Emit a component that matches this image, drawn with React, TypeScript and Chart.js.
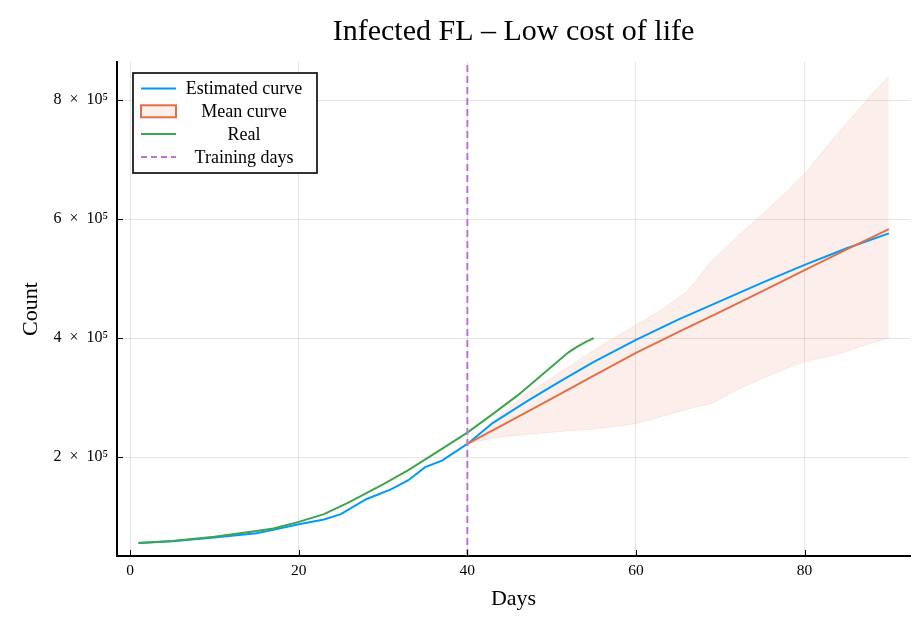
import React, { useEffect, useRef } from 'react';
import { Chart, registerables } from 'chart.js';

Chart.register(...registerables);

// values
const estDays = [1, 5, 10, 15, 17, 20, 23, 25, 28, 31, 33, 35, 37, 40, 43, 47, 51, 55, 60, 65, 70, 75, 80, 85, 90];
const estimated = [55500, 58500, 64500, 72000, 77500, 87000, 95000, 104000, 129000, 146000, 161000, 183000, 194000, 222000, 257000, 293000, 327000, 360000, 397000, 431000, 462000, 493000, 523000, 551000, 576000];

const realDays = [1, 5, 10, 15, 17, 20, 23, 26, 30, 33, 36, 40, 43, 46, 49, 52, 53, 54, 55];
const real = [55500, 58800, 66000, 75500, 80000, 91000, 104000, 124000, 154000, 178000, 205000, 241000, 272000, 304000, 340000, 376000, 385000, 393000, 400000];

const meanDays = [40, 45, 50, 55, 60, 65, 70, 75, 80, 85, 90];
const meanCurve = [222000, 260000, 298000, 337000, 375000, 410000, 444000, 479000, 514000, 549000, 583000];

const bandDays = [40, 43, 47, 51, 55, 60, 63, 66, 67, 69, 72, 75, 78, 80, 84, 88, 90];
const bandUpper = [222000, 260000, 306000, 342000, 380000, 422000, 447000, 478000, 494000, 530000, 570000, 608000, 648000, 676000, 745000, 810000, 840000];
const bandLower = [222000, 232000, 238000, 243000, 247000, 256000, 268000, 280000, 284000, 290000, 313000, 332000, 350000, 360000, 373000, 392000, 400000];

const trainingDay = 40;
const xTicks = [0, 20, 40, 60, 80];
const yTicks = [200000, 400000, 600000, 800000];

const X_MIN = -1.55;
const X_MAX = 92.5;
const Y_MIN = 33600;
const Y_MAX = 864000;

const BLUE = '#009AFA';
const ORANGE = '#E36F47';
const GREEN = '#3EA44E';
const PURPLE = '#C371D2';
const BAND = 'rgba(227,111,71,0.11)';
const SERIF = "'Liberation Serif', 'DejaVu Serif', serif";

const pts = (xs: number[], ys: number[]) => xs.map((x, i) => ({ x, y: ys[i] }));

// small inward tick marks like the Plots.jl frame
const innerTicks = {
  id: 'innerTicks',
  afterDraw(chart: any) {
    const { ctx, chartArea } = chart;
    const xs = chart.scales.x;
    const ys = chart.scales.y;
    ctx.save();
    ctx.strokeStyle = '#000';
    ctx.lineWidth = 1;
    xTicks.forEach((v) => {
      const px = Math.round(xs.getPixelForValue(v)) + 0.5;
      ctx.beginPath();
      ctx.moveTo(px, chartArea.bottom);
      ctx.lineTo(px, chartArea.bottom - 6);
      ctx.stroke();
    });
    yTicks.forEach((v) => {
      const py = Math.round(ys.getPixelForValue(v)) + 0.5;
      ctx.beginPath();
      ctx.moveTo(chartArea.left, py);
      ctx.lineTo(chartArea.left + 6, py);
      ctx.stroke();
    });
    ctx.restore();
  },
};

const legendItems = [
  { label: 'Estimated curve', kind: 'line', color: BLUE },
  { label: 'Mean curve', kind: 'box', color: ORANGE },
  { label: 'Real', kind: 'line', color: GREEN },
  { label: 'Training days', kind: 'dash', color: PURPLE },
];

const insideLegend = {
  id: 'insideLegend',
  afterDraw(chart: any) {
    const { ctx, chartArea } = chart;
    const x0 = chartArea.left + 16;
    const y0 = chartArea.top + 11;
    const w = 184;
    const h = 100;
    ctx.save();
    ctx.fillStyle = '#fff';
    ctx.fillRect(x0, y0, w, h);
    ctx.strokeStyle = '#000';
    ctx.lineWidth = 1.6;
    ctx.strokeRect(x0, y0, w, h);
    ctx.font = `18px ${SERIF}`;
    ctx.textAlign = 'center';
    ctx.textBaseline = 'middle';
    legendItems.forEach((it, i) => {
      const cy = y0 + 15.5 + i * 22.8;
      const lx = x0 + 8;
      ctx.strokeStyle = it.color;
      ctx.lineWidth = 2;
      if (it.kind === 'box') {
        ctx.fillStyle = BAND;
        ctx.fillRect(lx, cy - 6, 35, 12);
        ctx.strokeRect(lx, cy - 6, 35, 12);
      } else {
        ctx.setLineDash(it.kind === 'dash' ? [6, 4] : []);
        ctx.beginPath();
        ctx.moveTo(lx, cy);
        ctx.lineTo(lx + 35, cy);
        ctx.stroke();
        ctx.setLineDash([]);
      }
      ctx.fillStyle = '#000';
      ctx.fillText(it.label, x0 + 111, cy + 1);
    });
    ctx.restore();
  },
};

const App: React.FC = () => {
  const canvasRef = useRef<HTMLCanvasElement | null>(null);
  const chartRef = useRef<Chart | null>(null);

  useEffect(() => {
    if (!canvasRef.current) return;
    Chart.defaults.color = '#000';
    Chart.defaults.font.family = SERIF;

    chartRef.current = new Chart(canvasRef.current, {
      type: 'line',
      data: {
        datasets: [
          {
            label: 'Training days',
            data: [{ x: trainingDay, y: Y_MIN }, { x: trainingDay, y: Y_MAX }],
            borderColor: PURPLE,
            borderWidth: 2,
            borderDash: [7, 4],
            pointRadius: 0,
            order: 1,
          },
          {
            label: 'Real',
            data: pts(realDays, real),
            borderColor: GREEN,
            borderWidth: 2,
            pointRadius: 0,
            order: 2,
          },
          {
            label: 'Mean curve',
            data: pts(meanDays, meanCurve),
            borderColor: ORANGE,
            borderWidth: 2,
            pointRadius: 0,
            order: 3,
          },
          {
            label: 'Estimated curve',
            data: pts(estDays, estimated),
            borderColor: BLUE,
            borderWidth: 2,
            pointRadius: 0,
            order: 4,
          },
          {
            label: 'band upper',
            data: pts(bandDays, bandUpper),
            borderColor: 'rgba(227,111,71,0.12)',
            borderWidth: 1,
            backgroundColor: BAND,
            pointRadius: 0,
            fill: '+1',
            order: 5,
          },
          {
            label: 'band lower',
            data: pts(bandDays, bandLower),
            borderColor: 'rgba(227,111,71,0.12)',
            borderWidth: 1,
            pointRadius: 0,
            fill: false,
            order: 6,
          },
        ],
      },
      options: {
        animation: false,
        responsive: false,
        layout: { padding: { left: 0, right: 6, top: 0, bottom: 0 } },
        plugins: {
          legend: { display: false },
          tooltip: { enabled: false },
          title: {
            display: true,
            text: 'Infected FL – Low cost of life',
            fullSize: false,
            font: { size: 30, weight: 'normal', family: SERIF },
            padding: { top: 14, bottom: 12 },
            color: '#000',
          },
        },
        scales: {
          x: {
            type: 'linear',
            min: X_MIN,
            max: X_MAX,
            afterBuildTicks: (scale: any) => {
              scale.ticks = xTicks.map((value) => ({ value }));
            },
            afterFit: (scale: any) => {
              scale.height = 64;
            },
            ticks: { font: { size: 15.5 }, padding: 6, maxRotation: 0 },
            grid: { color: 'rgba(0,0,0,0.1)', lineWidth: 1, drawTicks: false },
            border: { color: '#000', width: 2 },
            title: { display: true, text: 'Days', font: { size: 22 }, padding: { top: 0, bottom: 8 } },
          },
          y: {
            type: 'linear',
            min: Y_MIN,
            max: Y_MAX,
            afterBuildTicks: (scale: any) => {
              scale.ticks = yTicks.map((value) => ({ value }));
            },
            afterFit: (scale: any) => {
              scale.width = 117;
            },
            ticks: {
              font: { size: 16 },
              padding: 9,
              callback: (v: any) => `${Number(v) / 100000}\u2002×\u200210⁵`,
            },
            grid: { color: 'rgba(0,0,0,0.1)', lineWidth: 1, drawTicks: false },
            border: { color: '#000', width: 2 },
            title: { display: true, text: 'Count', font: { size: 22 }, padding: { top: 18, bottom: 0 } },
          },
        },
      },
      plugins: [innerTicks, insideLegend],
    });

    return () => {
      if (chartRef.current) {
        chartRef.current.destroy();
        chartRef.current = null;
      }
    };
  }, []);

  return (
    <div style={{ position: 'absolute', left: 0, top: 0, width: 916, height: 620, background: '#fff' }}>
      <canvas ref={canvasRef} width={916} height={620} />
    </div>
  );
};

export default App;
